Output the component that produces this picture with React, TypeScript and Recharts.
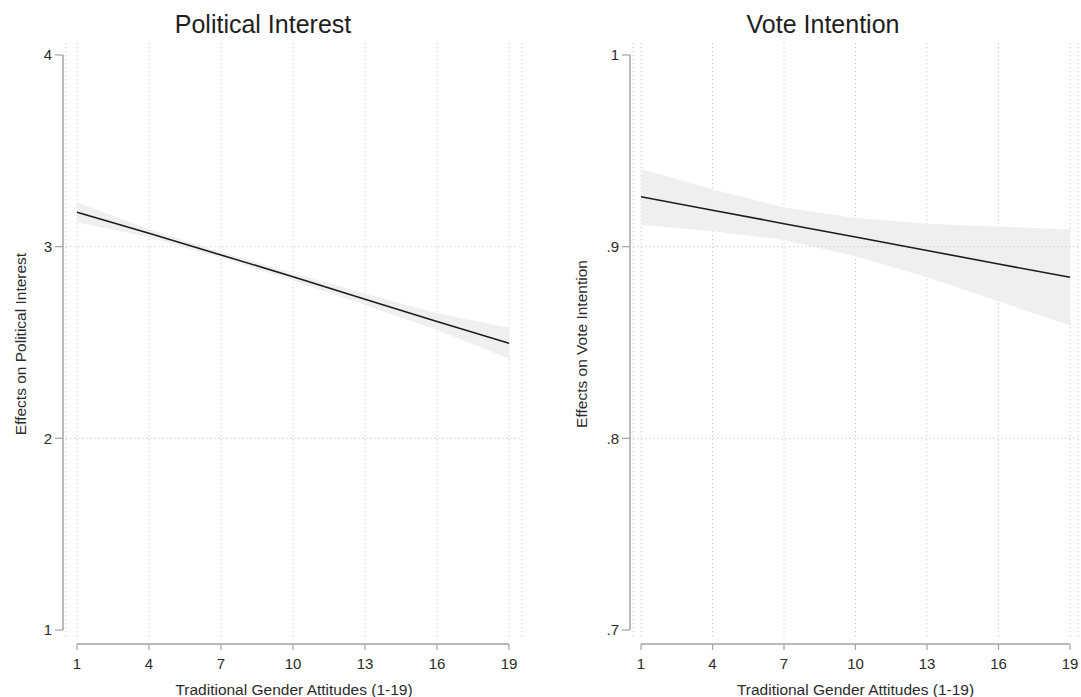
import React from "react";
import { Area, CartesianGrid, ComposedChart, Label, Line, ReferenceLine, XAxis, YAxis } from "recharts";

// x values: traditional gender attitudes scale
const attitude = [1, 4, 7, 10, 13, 16, 19];

// Political interest: predicted effect with 95% band
const interestFit = [3.18, 3.07, 2.957, 2.843, 2.726, 2.609, 2.496];
const interestLow = [3.128, 3.049, 2.942, 2.824, 2.696, 2.565, 2.415];
const interestHigh = [3.232, 3.091, 2.972, 2.862, 2.756, 2.653, 2.577];
const interestTicks = [1, 2, 3, 4];

// Vote intention: predicted effect with 95% band
const voteFit = [0.926, 0.919, 0.912, 0.905, 0.898, 0.891, 0.884];
const voteLow = [0.9115, 0.908, 0.9035, 0.895, 0.884, 0.8715, 0.859];
const voteHigh = [0.9405, 0.93, 0.9205, 0.915, 0.912, 0.9105, 0.909];
const voteTicks = [0.7, 0.8, 0.9, 1];

const H = 697;
const TOP = 43;
const X_AXIS_H = 60;
const PAD_TOP = 12;
const PAD_BOTTOM = 7;
const DATA_H = H - TOP - X_AXIS_H - PAD_TOP - PAD_BOTTOM;

const AXIS = "#a3a3a3";
const GRID = "#cbcbcb";
const TEXT = "#2b2b2b";
const FONT = "'Liberation Sans', Arial, Helvetica, sans-serif";

const fmtPlain = (v: number) => String(v);
const fmtShare = (v: number) => String(v).replace(/^0\./, ".");

type PanelProps = {
  title: string;
  titleX: number;
  yTitle: string;
  yTitleX: number;
  left: number;
  width: number;
  yAxisWidth: number;
  marginRight: number;
  padL: number;
  padR: number;
  fit: number[];
  low: number[];
  high: number[];
  yTicks: number[];
  fmt: (v: number) => string;
};

function Panel(p: PanelProps) {
  const data = attitude.map((x, i) => ({ x, fit: p.fit[i], band: [p.low[i], p.high[i]] }));
  const dataW = p.width - p.yAxisWidth - p.marginRight - p.padL - p.padR;
  const plotW = p.width - p.yAxisWidth - p.marginRight;

  const XTick = (props: any) => {
    const { x, y, payload } = props;
    const ay = y + 7;
    return (
      <g>
        {payload.value === attitude[0] && (
          <line x1={x} x2={x + dataW} y1={ay} y2={ay} stroke={AXIS} strokeWidth={1.5} />
        )}
        <line x1={x} x2={x} y1={ay} y2={ay + 6} stroke={AXIS} strokeWidth={1.2} />
        <text x={x} y={ay + 25} textAnchor="middle" fontSize={15} fill={TEXT}>
          {payload.value}
        </text>
      </g>
    );
  };

  const YTick = (props: any) => {
    const { x, y, payload } = props;
    const ax = x - 3;
    return (
      <g>
        {payload.value === p.yTicks[0] && (
          <line x1={ax} x2={ax} y1={y} y2={y - DATA_H} stroke={AXIS} strokeWidth={1.5} />
        )}
        <line x1={ax - 8} x2={ax} y1={y} y2={y} stroke={AXIS} strokeWidth={1.2} />
        <text x={ax - 11} y={y} dy="0.36em" textAnchor="end" fontSize={15} fill={TEXT}>
          {p.fmt(payload.value)}
        </text>
      </g>
    );
  };

  return (
    <div style={{ position: "absolute", left: p.left, top: 0, width: p.width, height: H }}>
      <div
        style={{
          position: "absolute",
          left: p.titleX - p.left - 200,
          width: 400,
          top: 12,
          textAlign: "center",
          fontSize: 25,
          lineHeight: "25px",
          color: "#1e1e1e",
        }}
      >
        {p.title}
      </div>
      <ComposedChart
        width={p.width}
        height={H}
        data={data}
        margin={{ top: TOP, right: p.marginRight, bottom: 0, left: 0 }}
      >
        <CartesianGrid horizontal={false} stroke={GRID} strokeDasharray="1.3 2.7" />
        {p.yTicks.slice(1, -1).map((t) => (
          <ReferenceLine key={t} y={t} stroke={GRID} strokeDasharray="1.3 2.7" />
        ))}
        <XAxis
          dataKey="x"
          type="number"
          domain={[attitude[0], attitude[attitude.length - 1]]}
          ticks={attitude}
          interval={0}
          padding={{ left: p.padL, right: p.padR }}
          axisLine={false}
          tickLine={false}
          tickSize={0}
          tickMargin={0}
          height={X_AXIS_H}
          tick={<XTick />}
        >
          <Label
            content={() => (
              <text
                x={p.yAxisWidth + plotW / 2}
                y={H - 2}
                textAnchor="middle"
                fontSize={15.5}
                fill={TEXT}
              >
                Traditional Gender Attitudes (1-19)
              </text>
            )}
          />
        </XAxis>
        <YAxis
          type="number"
          domain={[p.yTicks[0], p.yTicks[p.yTicks.length - 1]]}
          ticks={p.yTicks}
          interval={0}
          padding={{ top: PAD_TOP, bottom: PAD_BOTTOM }}
          axisLine={false}
          tickLine={false}
          tickSize={0}
          tickMargin={0}
          width={p.yAxisWidth}
          tick={<YTick />}
        >
          <Label
            content={() => (
              <text
                x={p.yTitleX}
                y={344}
                transform={`rotate(-90 ${p.yTitleX} 344)`}
                textAnchor="middle"
                dy="0.36em"
                fontSize={15.5}
                fill={TEXT}
              >
                {p.yTitle}
              </text>
            )}
          />
        </YAxis>
        <Area
          dataKey="band"
          type="linear"
          stroke="none"
          fill="#efefef"
          fillOpacity={1}
          isAnimationActive={false}
        />
        <Line
          dataKey="fit"
          type="linear"
          stroke="#1c1c1c"
          strokeWidth={1.6}
          dot={false}
          isAnimationActive={false}
        />
      </ComposedChart>
    </div>
  );
}

export default function App() {
  return (
    <div
      style={{
        position: "absolute",
        left: 0,
        top: 0,
        width: 1081,
        height: H,
        background: "#ffffff",
        fontFamily: FONT,
      }}
    >
      <Panel
        title="Political Interest"
        titleX={263}
        yTitle="Effects on Political Interest"
        yTitleX={20}
        left={0}
        width={540}
        yAxisWidth={66}
        marginRight={18}
        padL={11}
        padR={13}
        fit={interestFit}
        low={interestLow}
        high={interestHigh}
        yTicks={interestTicks}
        fmt={fmtPlain}
      />
      <Panel
        title="Vote Intention"
        titleX={823}
        yTitle="Effects on Vote Intention"
        yTitleX={21}
        left={560}
        width={521}
        yAxisWidth={73}
        marginRight={3}
        padL={8}
        padR={8}
        fit={voteFit}
        low={voteLow}
        high={voteHigh}
        yTicks={voteTicks}
        fmt={fmtShare}
      />
    </div>
  );
}
